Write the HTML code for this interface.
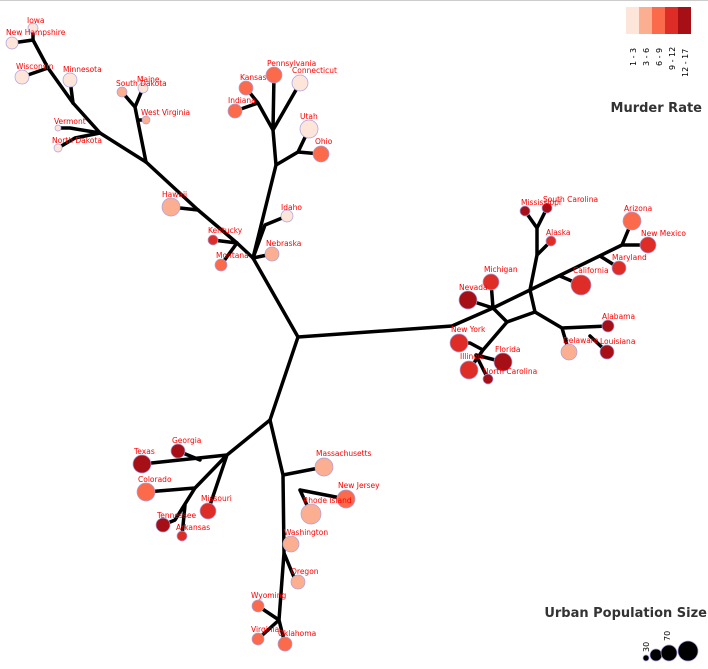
<!DOCTYPE html>
<html><head><meta charset="utf-8"><style>
body{margin:0;background:#fff;width:708px;height:669px;overflow:hidden}
svg{display:block}
text{font-family:"DejaVu Sans","Liberation Sans",sans-serif}
.l{font-size:7.5px;fill:#f00}
.e{stroke:#000;stroke-width:3.5;fill:none;stroke-linecap:round;stroke-linejoin:round}
circle{stroke:#a9a0e0;stroke-width:0.7}
</style></head><body>
<svg width="708" height="669" viewBox="0 0 708 669">
<line x1="0" y1="0.5" x2="708" y2="0.5" stroke="#ccc"/>
<g class="e">
<path d="M298,337 L253,258 L237,243 L198,210 L146,162 L100,133 L73,103 L48,68 L33,40 L33,28"/>
<path d="M33,40 L12,43 M48,68 L22,77 M73,103 L70,80 M100,133 L70,128 L58,128 M100,133 L75,138 L58,148"/>
<path d="M146,162 L135,107 L122,92 M135,107 L143,88 M138,120 L146,120"/>
<path d="M198,210 L171,207 M237,243 L213,240 M237,243 L221,265 M253,258 L272,254 M253,258 L265,225 L287,216"/>
<path d="M253,258 L276,165 L273,130 L258,103 L246,88 M273,130 L274,75 M273,130 L300,83 M258,103 L235,111 M276,165 L298,152 L321,154 M298,152 L309,129"/>
<path d="M298,337 L452,326 L493,308 L530,290 L622,245 L632,221 M622,245 L648,245 M600,256 L619,268 M560,276 L581,285"/>
<path d="M493,308 L468,300 M493,308 L491,282 M530,290 L535,312 L507,322 L493,308 M530,290 L537,255 L537,228 L525,211 M537,228 L547,208 M537,255 L551,241"/>
<path d="M535,312 L562,328 L608,326 M590,336 L607,352 M562,328 L569,352"/>
<path d="M507,322 L483,350 L470,343 L459,343 M483,350 L469,370 M476,355 L503,362 M476,355 L488,379"/>
<path d="M298,337 L270,420 L227,455 L142,464 M200,460 L178,451 M227,455 L195,488 L146,492 M227,455 L208,511 M195,488 L175,520 L163,525 M185,505 L182,536"/>
<path d="M270,420 L283,475 L324,467 M283,475 L284,553 L279,620 L258,606 M300,490 L346,499 M300,490 L311,514 M284,544 L291,544 M284,553 L296,582 M279,620 L258,639 M279,620 L285,644"/>
</g>
<g>
<circle cx="33" cy="28" r="5" fill="#fee5d9"/><circle cx="12" cy="43" r="6" fill="#fee5d9"/>
<circle cx="22" cy="77" r="7" fill="#fee5d9"/><circle cx="70" cy="80" r="7" fill="#fee5d9"/>
<circle cx="58" cy="128" r="3" fill="#fee5d9"/><circle cx="58" cy="148" r="4" fill="#fee5d9"/>
<circle cx="122" cy="92" r="5" fill="#fcae91"/><circle cx="143" cy="88" r="5" fill="#fee5d9"/><circle cx="146" cy="120" r="4" fill="#fcae91"/>
<circle cx="171" cy="207" r="9" fill="#fcae91"/><circle cx="213" cy="240" r="5" fill="#de2d26"/><circle cx="221" cy="265" r="6" fill="#fb6a4a"/>
<circle cx="272" cy="254" r="7" fill="#fcae91"/><circle cx="287" cy="216" r="6" fill="#fee5d9"/>
<circle cx="246" cy="88" r="7" fill="#fb6a4a"/><circle cx="274" cy="75" r="8" fill="#fb6a4a"/><circle cx="300" cy="83" r="8" fill="#fee5d9"/>
<circle cx="235" cy="111" r="7" fill="#fb6a4a"/><circle cx="309" cy="129" r="9" fill="#fee5d9"/><circle cx="321" cy="154" r="8" fill="#fb6a4a"/>
<circle cx="632" cy="221" r="9" fill="#fb6a4a"/><circle cx="648" cy="245" r="8" fill="#de2d26"/><circle cx="619" cy="268" r="7" fill="#de2d26"/>
<circle cx="581" cy="285" r="10" fill="#de2d26"/><circle cx="525" cy="211" r="5" fill="#a50f15"/><circle cx="547" cy="208" r="5" fill="#a50f15"/>
<circle cx="551" cy="241" r="5" fill="#de2d26"/><circle cx="468" cy="300" r="9" fill="#a50f15"/><circle cx="491" cy="282" r="8" fill="#de2d26"/>
<circle cx="608" cy="326" r="6" fill="#a50f15"/><circle cx="607" cy="352" r="7" fill="#a50f15"/><circle cx="569" cy="352" r="8" fill="#fcae91"/>
<circle cx="459" cy="343" r="9" fill="#de2d26"/><circle cx="469" cy="370" r="9" fill="#de2d26"/><circle cx="503" cy="362" r="9" fill="#a50f15"/><circle cx="488" cy="379" r="5" fill="#a50f15"/>
<circle cx="142" cy="464" r="9" fill="#a50f15"/><circle cx="178" cy="451" r="7" fill="#a50f15"/><circle cx="146" cy="492" r="9" fill="#fb6a4a"/>
<circle cx="208" cy="511" r="8" fill="#de2d26"/><circle cx="163" cy="525" r="7" fill="#a50f15"/><circle cx="182" cy="536" r="5" fill="#de2d26"/>
<circle cx="324" cy="467" r="9" fill="#fcae91"/><circle cx="346" cy="499" r="9" fill="#fb6a4a"/><circle cx="311" cy="514" r="10" fill="#fcae91"/>
<circle cx="291" cy="544" r="8" fill="#fcae91"/><circle cx="298" cy="582" r="7" fill="#fcae91"/><circle cx="258" cy="606" r="6" fill="#fb6a4a"/>
<circle cx="258" cy="639" r="6" fill="#fb6a4a"/><circle cx="285" cy="644" r="7" fill="#fb6a4a"/>
</g>
<g class="l">
<text x="27" y="23">Iowa</text><text x="6" y="35">New Hampshire</text><text x="16" y="69">Wisconsin</text><text x="63" y="72">Minnesota</text>
<text x="54" y="124">Vermont</text><text x="52" y="143">North Dakota</text><text x="116" y="86">South Dakota</text><text x="137" y="82">Maine</text>
<text x="141" y="115">West Virginia</text><text x="162" y="197">Hawaii</text><text x="208" y="233">Kentucky</text><text x="216" y="258">Montana</text>
<text x="266" y="246">Nebraska</text><text x="281" y="210">Idaho</text><text x="240" y="80">Kansas</text><text x="267" y="66">Pennsylvania</text>
<text x="292" y="73">Connecticut</text><text x="228" y="103">Indiana</text><text x="300" y="119">Utah</text><text x="315" y="144">Ohio</text>
<text x="624" y="211">Arizona</text><text x="641" y="236">New Mexico</text><text x="612" y="260">Maryland</text><text x="573" y="273">California</text>
<text x="521" y="205">Mississippi</text><text x="543" y="202">South Carolina</text><text x="546" y="235">Alaska</text><text x="459" y="290">Nevada</text>
<text x="484" y="272">Michigan</text><text x="602" y="319">Alabama</text><text x="600" y="344">Louisiana</text><text x="563" y="343">Delaware</text>
<text x="451" y="332">New York</text><text x="460" y="359">Illinois</text><text x="495" y="352">Florida</text><text x="483" y="374">North Carolina</text>
<text x="134" y="454">Texas</text><text x="172" y="443">Georgia</text><text x="138" y="482">Colorado</text><text x="201" y="501">Missouri</text>
<text x="157" y="518">Tennessee</text><text x="176" y="530">Arkansas</text><text x="316" y="456">Massachusetts</text><text x="338" y="488">New Jersey</text>
<text x="303" y="503">Rhode Island</text><text x="284" y="535">Washington</text><text x="291" y="574">Oregon</text><text x="251" y="598">Wyoming</text>
<text x="251" y="632">Virginia</text><text x="278" y="636">Oklahoma</text>
</g>
<rect x="626" y="7" width="13" height="27" fill="#fee5d9"/><rect x="639" y="7" width="13" height="27" fill="#fcae91"/>
<rect x="652" y="7" width="13" height="27" fill="#fb6a4a"/><rect x="665" y="7" width="13" height="27" fill="#de2d26"/><rect x="678" y="7" width="13" height="27" fill="#a50f15"/>
<g font-size="8" fill="#000">
<text transform="translate(636,66) rotate(-90)">1 - 3</text><text transform="translate(649,66) rotate(-90)">3 - 6</text>
<text transform="translate(662,66) rotate(-90)">6 - 9</text><text transform="translate(675,70) rotate(-90)">9 - 12</text><text transform="translate(688,77) rotate(-90)">12 - 17</text>
</g>
<text x="702" y="112" text-anchor="end" font-size="13" font-weight="bold" fill="#333">Murder Rate</text>
<text x="707" y="617" text-anchor="end" font-size="13" font-weight="bold" fill="#333">Urban Population Size</text>
<circle cx="646" cy="658" r="3" fill="#000" stroke="none"/><circle cx="656" cy="655" r="6" fill="#000" stroke="none"/>
<circle cx="669" cy="653" r="8" fill="#000" stroke="none"/><circle cx="688" cy="651" r="10" fill="#000" stroke="none"/>
<g font-size="8" fill="#000"><text transform="translate(649,652) rotate(-90)">30</text><text transform="translate(670,641) rotate(-90)">70</text></g>
</svg>
</body></html>
